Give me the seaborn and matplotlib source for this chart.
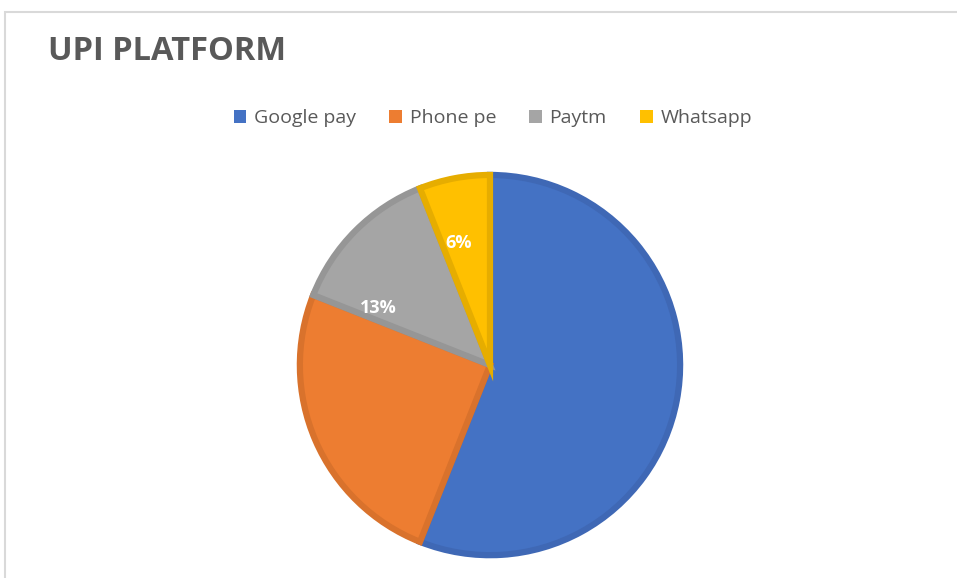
import matplotlib
matplotlib.use("Agg")
import matplotlib.pyplot as plt
import seaborn as sns
import numpy as np
from matplotlib.patches import Rectangle, Patch

categories = ["Google pay", "Phone pe", "Paytm", "Whatsapp"]
values = [56, 25, 13, 6]
shown_labels = ["Paytm", "Whatsapp"]
title = "UPI PLATFORM"

sns.set_theme(style="white")
plt.rcParams['font.family'] = ['Open Sans', 'DejaVu Sans']

colors = ["#4472C4", "#ED7D31", "#A5A5A5", "#FFC000"]
edges = ["#3f68b5", "#d9722c", "#969696", "#e6ad00"]

fig = plt.figure(figsize=(9.57, 5.78), dpi=100)
fig.patch.set_facecolor("white")

# chart frame
fig.add_artist(Rectangle((5/957, -0.1), 1.2, 1 - 12/578 + 0.1, transform=fig.transFigure,
                         fill=False, edgecolor="#d9d9d9", linewidth=1.5))

ax = fig.add_axes([0.3093, 0.0329, 0.4054, 0.671])

wedges, texts, autotexts = ax.pie(values, colors=colors, startangle=90, counterclock=False,
                                  autopct=lambda p: f"{p:.0f}%", pctdistance=0.66,
                                  wedgeprops=dict(linewidth=4.5, edgecolor="none"),
                                  textprops=dict(color="white", fontsize=13, fontweight="bold"))
for w, ec in zip(wedges, edges):
    w.set_edgecolor(ec)
# label placement similar to the reference's best-fit positions
frac = {"Paytm": 0.88, "Whatsapp": 0.66}
for cat, w, t in zip(categories, wedges, autotexts):
    if cat not in shown_labels:
        t.set_visible(False)
        continue
    ang = np.deg2rad(w.theta1 + frac[cat] * (w.theta2 - w.theta1))
    t.set_position((0.66 * np.cos(ang), 0.66 * np.sin(ang)))
ax.set_xlim(-1.02, 1.02)
ax.set_ylim(-1.02, 1.02)
ax.set_aspect("equal")
ax.axis("off")

fig.text(48/957, 1 - 51/578, title, fontsize=23.5, fontweight="bold", color="#595959",
         va="center", ha="left")

handles = [Patch(facecolor=c, edgecolor="none") for c in colors]
fig.legend(handles, categories, loc="center", bbox_to_anchor=(0.515, 1 - 118/578), ncol=4,
           frameon=False, fontsize=14, handlelength=0.65, handleheight=0.65, handletextpad=0.4,
           columnspacing=1.7, labelcolor="#595959")

fig.savefig("out.png", dpi=100)
